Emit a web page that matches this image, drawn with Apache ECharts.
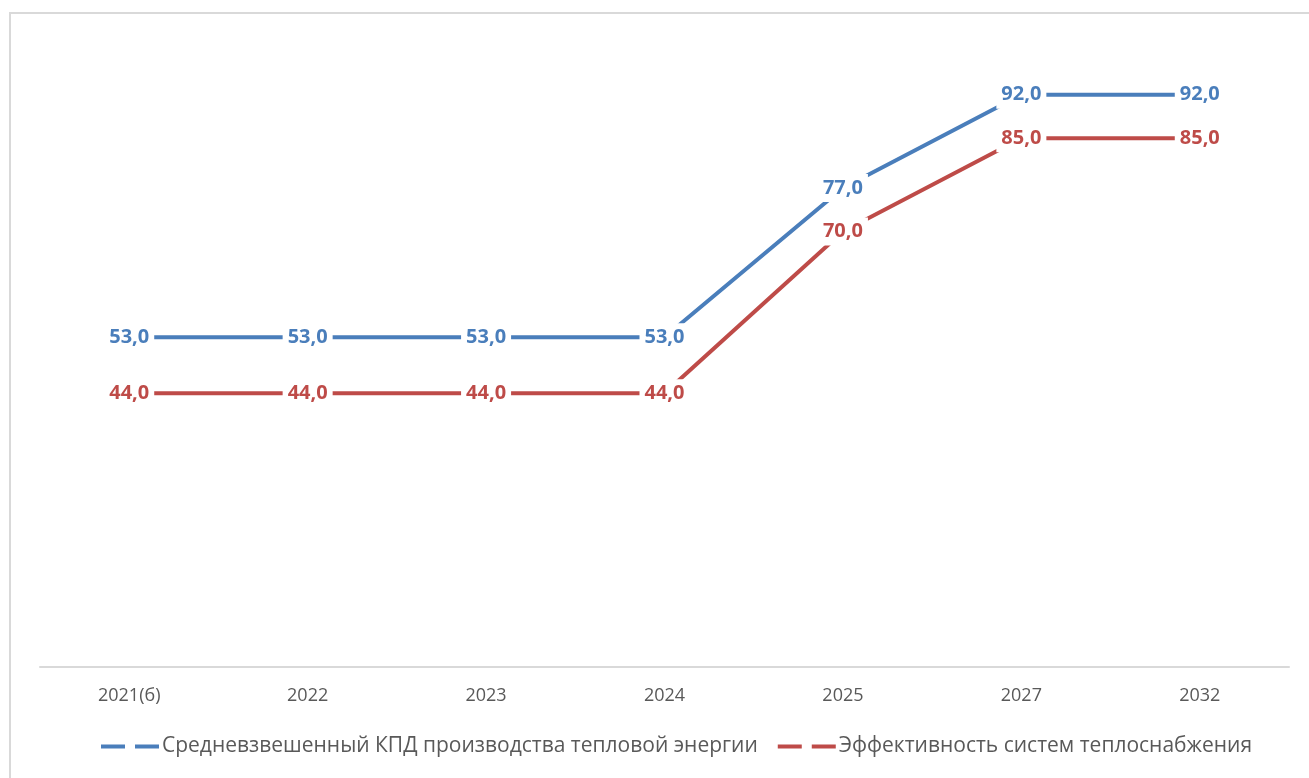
<!DOCTYPE html>
<html>
<head>
<meta charset="utf-8">
<script src="https://cdn.jsdelivr.net/npm/echarts@6/dist/echarts.min.js"></script>
<style>
  html, body { margin: 0; padding: 0; background: #fff; }
  #chart { width: 1309px; height: 778px; }
</style>
</head>
<body>
<div id="chart"></div>
<script>
// годы
const years = ['2021(б)', '2022', '2023', '2024', '2025', '2027', '2032'];
// КПД производства тепловой энергии
const kpd = [53, 53, 53, 53, 77, 92, 92];
// эффективность систем теплоснабжения
const effect = [44, 44, 44, 44, 70, 85, 85];

const blue = '#4a7ebb';
const red = '#be4b48';
const font = 'Open Sans';

const chart = echarts.init(document.getElementById('chart'));

function lineSeries(name, data, color) {
  return {
    name: name,
    type: 'line',
    data: data,
    symbol: 'circle',
    symbolSize: 1,
    itemStyle: { color: color },
    lineStyle: { color: color, width: 4 },
    label: {
      show: true,
      position: 'inside',
      formatter: p => p.value.toFixed(1).replace('.', ','),
      color: color,
      fontFamily: font,
      fontWeight: 'bold',
      fontSize: 20,
      backgroundColor: '#fff',
      padding: [4, 5]
    },
    emphasis: { disabled: true },
    animation: false
  };
}

chart.setOption({
  animation: false,
  graphic: [{
    type: 'rect',
    shape: { x: 10, y: 13, width: 1400, height: 800 },
    style: { fill: 'none', stroke: '#d9d9d9', lineWidth: 2 },
    silent: true
  }],
  grid: { left: 40, right: 20, top: 45, bottom: 111 },
  xAxis: {
    type: 'category',
    data: years,
    boundaryGap: true,
    axisLine: { lineStyle: { color: '#d9d9d9', width: 2 } },
    axisTick: { show: false },
    axisLabel: { color: '#595959', fontFamily: font, fontSize: 18, margin: 20 }
  },
  yAxis: {
    type: 'value',
    min: 0,
    max: 100,
    show: false,
    splitLine: { show: false }
  },
  legend: {
    bottom: 16,
    left: 96,
    itemWidth: 58,
    itemHeight: 4,
    itemGap: 20,
    icon: 'path://M0,0H24V4H0Z M34,0H58V4H34Z',
    textStyle: { color: '#595959', fontFamily: font, fontSize: 21, padding: [0, 0, 0, -2] },
    data: [
      'Средневзвешенный КПД производства тепловой энергии',
      'Эффективность систем теплоснабжения'
    ]
  },
  series: [
    lineSeries('Средневзвешенный КПД производства тепловой энергии', kpd, blue),
    lineSeries('Эффективность систем теплоснабжения', effect, red)
  ]
});
</script>
</body>
</html>
